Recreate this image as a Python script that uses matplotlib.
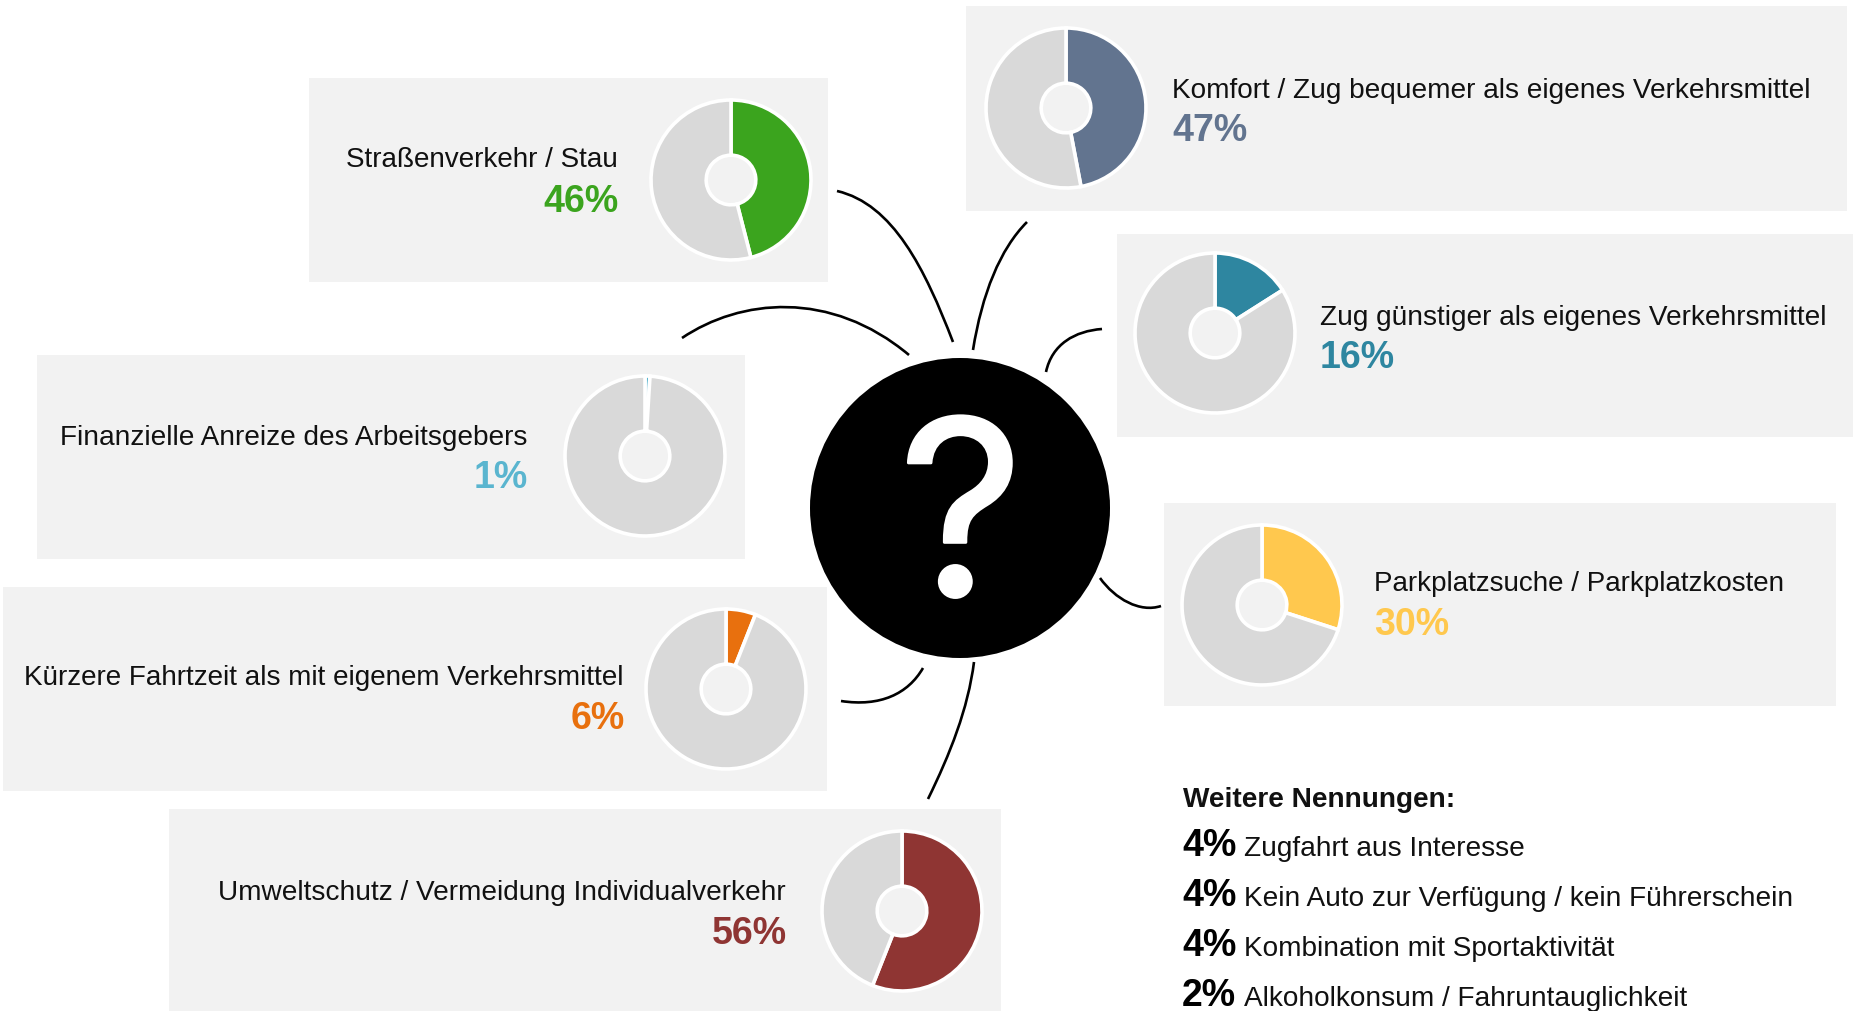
import matplotlib
matplotlib.use("Agg")
import matplotlib.pyplot as plt
import matplotlib.patheffects as pe
from matplotlib.patches import Rectangle, Circle, PathPatch
from matplotlib.path import Path

plt.rcParams['font.family'] = ['Liberation Sans', 'DejaVu Sans']

W, H = 1853, 1012
BOX = '#F2F2F2'
REST = '#D9D9D9'

# Daten
labels = ['Straßenverkehr / Stau', 'Finanzielle Anreize des Arbeitsgebers',
          'Kürzere Fahrtzeit als mit eigenem Verkehrsmittel',
          'Umweltschutz / Vermeidung Individualverkehr',
          'Komfort / Zug bequemer als eigenes Verkehrsmittel',
          'Zug günstiger als eigenes Verkehrsmittel',
          'Parkplatzsuche / Parkplatzkosten']
values = [46, 1, 6, 56, 47, 16, 30]
colors = ['#3BA41E', '#5AB5CF', '#E8700E', '#8F3533', '#62748F', '#2E86A0', '#FFC84E']

other_values = [4, 4, 4, 2]
other_labels = ['Zugfahrt aus Interesse', 'Kein Auto zur Verfügung / kein Führerschein',
                'Kombination mit Sportaktivität', 'Alkoholkonsum / Fahruntauglichkeit']

# Layout in Pixeln (x0, y0, x1, y1)
boxes = [(309, 79, 828, 283), (37, 356, 745, 560), (3, 588, 827, 792), (169, 810, 1001, 1012),
         (966, 7, 1847, 212), (1117, 235, 1853, 438), (1164, 504, 1836, 707)]
pie_centers = [(731, 181), (645, 457), (726, 690), (902, 912), (1066, 109), (1215, 334), (1262, 606)]
# Textanker: x, Ausrichtung, Grundlinie Label, Grundlinie Prozent, Schriftgroesse Label
text_pos = [(618, 'right', 167, 212, 20.1), (527, 'right', 445, 488, 20.2), (624, 'right', 685, 729, 20.1),
            (786, 'right', 900, 944, 20.2), (1172, 'left', 98, 141, 20.2), (1320, 'left', 325, 368, 20.2),
            (1374, 'left', 591, 635, 19.95)]
curves = [((837, 192), (893, 205), (925, 270), (953, 343)),
          ((1027, 223), (1000, 250), (982, 295), (973, 351)),
          ((1102, 330), (1075, 332), (1052, 345), (1046, 373)),
          ((1100, 579), (1115, 600), (1140, 614), (1161, 607)),
          ((682, 339), (740, 300), (830, 290), (909, 356)),
          ((841, 702), (880, 708), (908, 695), (923, 669)),
          ((928, 800), (950, 755), (968, 710), (974, 663))]

fig = plt.figure(figsize=(W / 100, H / 100), dpi=100, facecolor='white')
ax = fig.add_axes([0, 0, 1, 1])
ax.set_xlim(0, W)
ax.set_ylim(H, 0)
ax.axis('off')

for x0, y0, x1, y1 in boxes:
    ax.add_patch(Rectangle((x0, y0), x1 - x0, y1 - y0, facecolor=BOX, edgecolor='none'))

for c in curves:
    path = Path(c, [Path.MOVETO, Path.CURVE4, Path.CURVE4, Path.CURVE4])
    ax.add_patch(PathPatch(path, facecolor='none', edgecolor='black', lw=1.9))

ax.add_patch(Circle((960, 509), 150, facecolor='black', edgecolor='none'))
q = ax.text(961, 597, '?', color='white', fontsize=176, family='Inter', ha='center', va='baseline')
q.set_path_effects([pe.withStroke(linewidth=2, foreground='white')])

# Texte der Boxen
for i in range(len(labels)):
    x, ha, y1, y2, fs = text_pos[i]
    ax.text(x, y1, labels[i], fontsize=fs, color='#111111', ha=ha, va='baseline')
    px = x + 1 if ha == 'right' else x
    ax.text(px, y2, f'{values[i]}%', fontsize=27, fontweight='bold', color=colors[i], ha=ha, va='baseline')

# Ringe
R = 80
for i in range(len(values)):
    cx, cy = pie_centers[i]
    s = R * 1.1
    pax = fig.add_axes([(cx - s) / W, 1 - (cy + s) / H, 2 * s / W, 2 * s / H])
    pax.pie([values[i], 100 - values[i]], colors=[colors[i], REST], startangle=90, counterclock=False,
            radius=1, wedgeprops=dict(width=0.69, edgecolor='white', linewidth=2.6))
    pax.set_xlim(-1.1, 1.1)
    pax.set_ylim(-1.1, 1.1)
    pax.patch.set_alpha(0)

# Weitere Nennungen
ax.text(1183, 807, 'Weitere Nennungen:', fontsize=20.2, fontweight='bold', color='#111111', va='baseline')
rows = [856, 906, 956, 1006]
for v, t, y in zip(other_values, other_labels, rows):
    ax.text(1182, y, f'{v}%', fontsize=27, fontweight='bold', color='black', va='baseline')
    ax.text(1244, y, t, fontsize=20.2, color='#111111', va='baseline')

fig.savefig('out.png', dpi=100)
